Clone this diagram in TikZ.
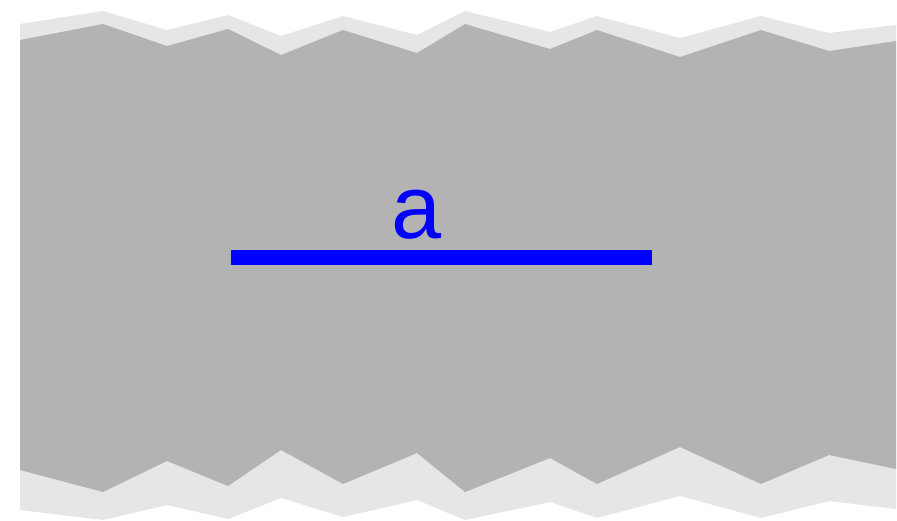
\documentclass[tikz,border=0pt]{standalone}
\usepackage{fontspec}
\setmainfont{Liberation Sans}
\usepackage{xcolor}
\usepackage{tikz}
\usetikzlibrary{positioning,calc}
\definecolor{stripdark}{RGB}{179,179,179}
\definecolor{striplight}{RGB}{230,230,230}
\tikzset{
  stripouter/.style={fill=striplight, draw=none},
  stripinner/.style={fill=stripdark, draw=none},
  lenbar/.style={draw=blue, line width=15pt, line cap=butt},
  lenlabel/.style={text=blue, font=\fontsize{90}{100}\selectfont, inner sep=0pt, anchor=base}
}
\begin{document}
\begin{tikzpicture}[x=1pt,y=-1pt]
  \fill[white] (0,0) rectangle (897,520);
  \useasboundingbox (0,0) rectangle (897,520);

  % torn strip, light edge band
  \fill[stripouter] (20,24) -- (103,11) -- (167,30) -- (228,15) -- (281,36) -- (343,16)
    -- (417,35) -- (465,11) -- (550,32) -- (597,16) -- (680,38) -- (761,16) -- (829,33) -- (896,25)
    -- (896,509) -- (829,501) -- (761,518) -- (680,496) -- (597,518) -- (550,502) -- (465,520)
    -- (417,500) -- (343,517) -- (281,498) -- (228,519) -- (167,505) -- (103,520) -- (20,510) -- cycle;
  % torn strip, body
  \fill[stripinner] (20,40) -- (103,24) -- (167,46) -- (228,29) -- (281,55) -- (343,30)
    -- (417,53) -- (465,24) -- (550,49) -- (597,30) -- (680,57) -- (761,30) -- (829,51) -- (896,41)
    -- (896,469) -- (829,455) -- (761,484) -- (680,447) -- (597,484) -- (550,458) -- (465,492)
    -- (417,453) -- (343,484) -- (281,450) -- (228,486) -- (167,461) -- (103,492) -- (20,470) -- cycle;

  \coordinate (barL) at (231,257.5);
  \coordinate (barR) at (652,257.5);
  \node[lenlabel] (alabel) at (417,238) {a};

  \draw[lenbar] (barL) -- (barR);
\end{tikzpicture}
\end{document}
